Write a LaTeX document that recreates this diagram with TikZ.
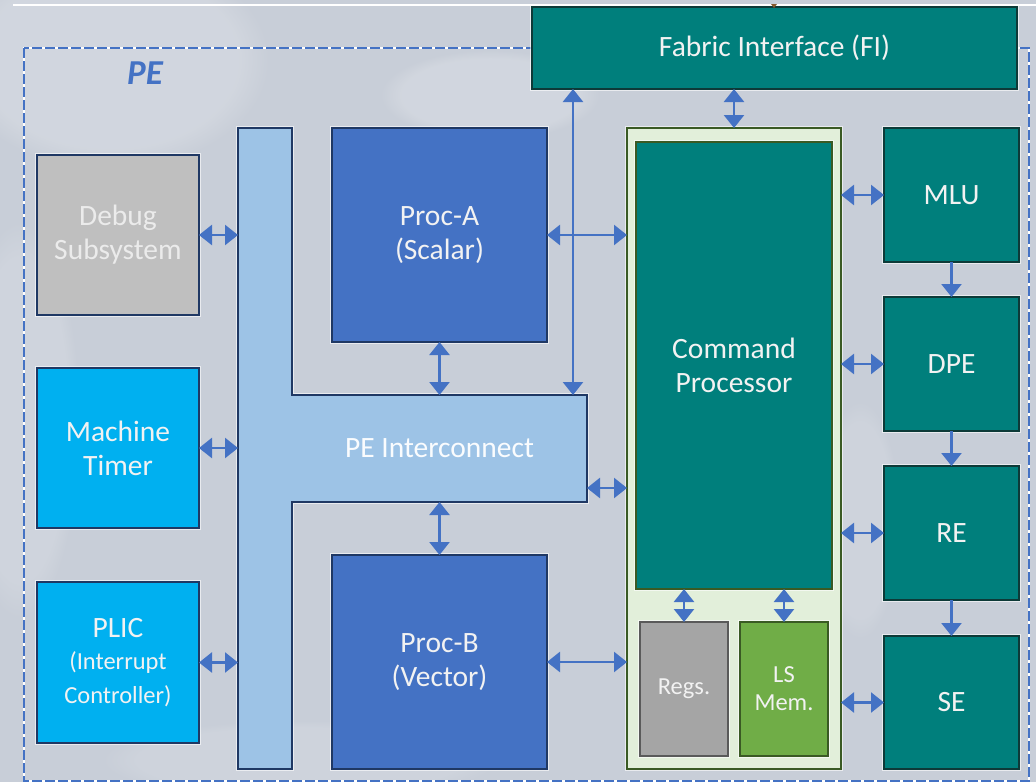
\documentclass[tikz,border=0pt]{standalone}
\usepackage{fontspec}
\setmainfont{Carlito}
\usetikzlibrary{arrows.meta,fadings}

\definecolor{bgc}{HTML}{C8CED8}
\definecolor{peblue}{HTML}{4472C4}
\definecolor{navy}{HTML}{1F3864}
\definecolor{busblue}{HTML}{9DC3E6}
\definecolor{cyanbox}{HTML}{00B0F0}
\definecolor{greybox}{HTML}{BFBFBF}
\definecolor{tealbox}{HTML}{007F7C}
\definecolor{tealedge}{HTML}{0D3A38}
\definecolor{cpfill}{HTML}{E2EFDA}
\definecolor{cpedge}{HTML}{3A5A24}
\definecolor{lsgreen}{HTML}{70AD47}
\definecolor{regsgrey}{HTML}{A5A5A5}
\definecolor{regsedge}{HTML}{5A5A5A}
\definecolor{labeltext}{HTML}{F2F2F2}

\tikzset{
  blk/.style={draw, line width=2.6pt, inner sep=0pt, outer sep=0pt, align=center,
    text=labeltext, font=\fontsize{29.5}{34}\selectfont,
    preaction={draw=white, draw opacity=0.6, line width=4.2pt}},
  procbox/.style={blk, fill=peblue, draw=navy},
  cyanblk/.style={blk, fill=cyanbox, draw=navy},
  greyblk/.style={blk, fill=greybox, draw=navy},
  tealblk/.style={blk, fill=tealbox, draw=tealedge},
  smallfont/.style={font=\fontsize{24.5}{28}\selectfont},
  bi/.style={draw=peblue, line width=2.5pt, {Triangle[width=20pt,length=13pt]}-{Triangle[width=20pt,length=13pt]}},
  uni/.style={draw=peblue, line width=2.5pt, -{Triangle[width=20pt,length=13pt]}},
  cloud/.style={fill=white, path fading=circle with fuzzy edge 20 percent}
}

\begin{document}
\begin{tikzpicture}[x=1pt, y=-1pt]
\useasboundingbox (0,0) rectangle (1036,782);

% backdrop with soft light patches
\fill[bgc] (0,0) rectangle (1036,782);
\fill[cloud, fill opacity=0.18] (110,60) ellipse (160 and 110);
\fill[cloud, fill opacity=0.18] (490,95) ellipse (110 and 45);
\fill[cloud, fill opacity=0.14] (20,420) ellipse (60 and 200);
\fill[cloud, fill opacity=0.12] (860,520) ellipse (40 and 120);
\fill[cloud, fill opacity=0.12] (300,760) ellipse (200 and 40);
\draw[white, line width=1.5pt] (13,5) -- (1036,5);

% PE boundary
\draw[white, line width=2pt] (24,48) rectangle (1029,781);
\draw[peblue, line width=2pt, dash pattern=on 10pt off 3pt] (24,48) rectangle (1029,781);
\node[font=\fontsize{35}{40}\selectfont\bfseries\itshape, text=peblue] (pelabel) at (145,73.5) {PE};

% left column
\node[greyblk, minimum width=162pt, minimum height=160pt, text=white!92!black] (debug) at (118,235) {Debug\\Subsystem};
\node[cyanblk, minimum width=162pt, minimum height=160pt] (timer) at (118,448) {Machine\\Timer};
\node[cyanblk, minimum width=162pt, minimum height=161pt] (plic) at (118,662.5)
  {PLIC\\[-2pt]{\fontsize{24.5}{31}\selectfont (Interrupt}\\{\fontsize{24.5}{31}\selectfont Controller)}};

% PE interconnect (T-shaped bus)
\path node[minimum width=54pt, minimum height=641pt, inner sep=0pt, outer sep=0pt] (bar) at (265,448.5) {}
      node[minimum width=295pt, minimum height=107pt, inner sep=0pt, outer sep=0pt] (arm) at (439.5,448.5) {};
\draw[fill=busblue, draw=navy, line width=2.6pt, line join=miter,
      preaction={draw=white, draw opacity=0.6, line width=4.2pt}]
  (bar.north west) -- (bar.north east) -- (arm.north west) -- (arm.north east)
  -- (arm.south east) -- (arm.south west) -- (bar.south east) -- (bar.south west) -- cycle;
\node[text=white!95!busblue, font=\fontsize{29.5}{34}\selectfont] (armlabel) at (arm.center) {PE Interconnect};

% processors
\node[procbox, minimum width=215pt, minimum height=214pt] (procA) at (439.5,235) {Proc-A\\(Scalar)};
\node[procbox, minimum width=215pt, minimum height=214pt] (procB) at (439.5,662) {Proc-B\\(Vector)};

% fabric interface
\node[tealblk, minimum width=485pt, minimum height=82pt] (fi) at (774.5,48) {Fabric Interface (FI)};
\fill[brown!70!black] (771,4) -- (777,4) -- (774,8) -- cycle;

% command processor cluster
\node[blk, fill=cpfill, draw=cpedge, minimum width=214pt, minimum height=641pt] (cpo) at (734,448.5) {};
\node[blk, fill=tealbox, draw=cpedge, minimum width=196pt, minimum height=447pt, preaction={}] (cpi) at (734,365.5) {Command\\Processor};
\node[blk, smallfont, fill=regsgrey, draw=regsedge, minimum width=88pt, minimum height=134pt, preaction={}] (regs) at (684,689) {Regs.};
\node[blk, smallfont, fill=lsgreen, draw=cpedge, minimum width=88pt, minimum height=134pt, preaction={}] (ls) at (784,689) {LS\\Mem.};

% engines
\node[tealblk, minimum width=135pt, minimum height=134pt] (mlu) at (951.5,195) {MLU};
\node[tealblk, minimum width=135pt, minimum height=134pt] (dpe) at (951.5,364) {DPE};
\node[tealblk, minimum width=135pt, minimum height=134pt] (re)  at (951.5,533) {RE};
\node[tealblk, minimum width=135pt, minimum height=133pt] (se)  at (951.5,702.5) {SE};

% connectors: peripherals to bus
\draw[bi] (debug.east) -- (debug.east -| bar.west);
\draw[bi] (timer.east) -- (timer.east -| bar.west);
\draw[bi] (plic.east) -- (plic.east -| bar.west);

% processors to bus
\draw[bi] (procA.south) -- (procA.south |- arm.north);
\draw[bi] (procB.north) -- (procB.north |- arm.south);

% fabric interface links
\draw[bi] ([xshift=-14pt]arm.north east) -- ([xshift=-14pt]arm.north east |- fi.south);
\draw[bi] (cpo.north) -- (cpo.north |- fi.south);

% links into the command processor cluster
\draw[bi] (procA.east) -- (procA.east -| cpo.west);
\draw[bi] ([yshift=-39.5pt]arm.east) -- ([yshift=-39.5pt]arm.east -| cpo.west);
\draw[bi] (procB.east) -- (procB.east -| cpo.west);
\draw[bi] (regs.north) -- (regs.north |- cpi.south);
\draw[bi] (ls.north) -- (ls.north |- cpi.south);

% engines
\draw[bi] (mlu.west) -- (mlu.west -| cpo.east);
\draw[bi] (dpe.west) -- (dpe.west -| cpo.east);
\draw[bi] (re.west) -- (re.west -| cpo.east);
\draw[bi] (se.west) -- (se.west -| cpo.east);
\draw[uni] (mlu.south) -- (dpe.north);
\draw[uni] (dpe.south) -- (re.north);
\draw[uni] (re.south) -- (se.north);
\end{tikzpicture}
\end{document}
